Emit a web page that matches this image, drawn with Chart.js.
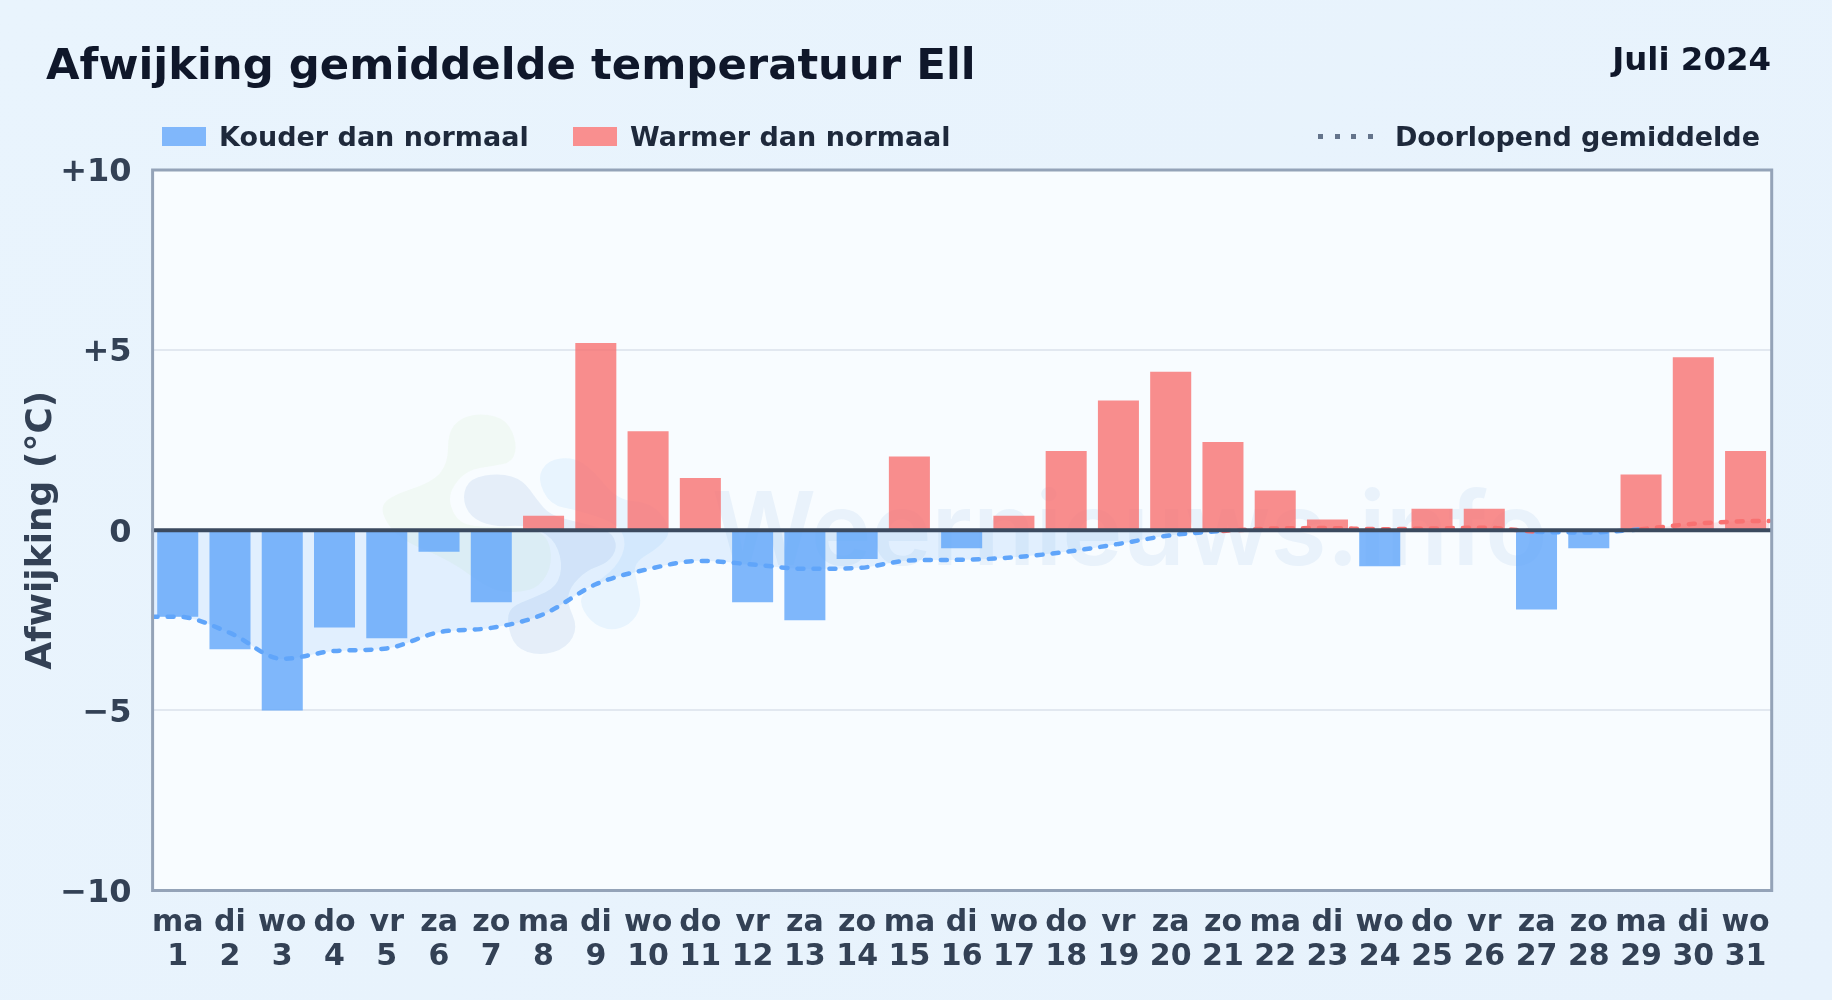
<!DOCTYPE html>
<html lang="nl">
<head>
<meta charset="utf-8">
<title>Afwijking gemiddelde temperatuur Ell</title>
<style>
  html, body { margin: 0; padding: 0; }
  body {
    position: relative;
    width: 1832px;
    height: 1000px;
    overflow: hidden;
    background: linear-gradient(135deg, #e9f4fd 0%, #e7f2fc 100%);
    font-family: 'DejaVu Sans', sans-serif;
    font-weight: 700;
  }
  canvas { position: absolute; left: 0; top: 0; }
  .txt { position: absolute; line-height: 1; white-space: nowrap; }
  #titel { left: 46px; top: 43px; font-size: 43.35px; color: #0f172a; }
  #maand { right: 61px; top: 43px; font-size: 32.4px; color: #0f172a; }
  .leg { top: 123px; font-size: 27px; color: #1e293b; }
  .swatch { position: absolute; top: 127px; width: 44px; height: 19px; }
  .dot { position: absolute; top: 134px; width: 5px; height: 5px; background: #64748b; }
</style>
</head>
<body>
<canvas id="chart" width="1832" height="1000"></canvas>
<div class="txt" id="titel">Afwijking gemiddelde temperatuur Ell</div>
<div class="txt" id="maand">Juli 2024</div>
<div class="swatch" style="left:162px;background:#80b7fb"></div>
<div class="txt leg" style="left:219px">Kouder dan normaal</div>
<div class="swatch" style="left:573px;background:#f98f8f"></div>
<div class="txt leg" style="left:630px">Warmer dan normaal</div>
<div class="dot" style="left:1318px"></div>
<div class="dot" style="left:1335px"></div>
<div class="dot" style="left:1351px"></div>
<div class="dot" style="left:1368px"></div>
<div class="txt leg" style="right:72px">Doorlopend gemiddelde</div>
<script src="https://cdn.jsdelivr.net/npm/chart.js@4"></script>
<script>
const weekdagen = ['ma', 'di', 'wo', 'do', 'vr', 'za', 'zo', 'ma', 'di', 'wo', 'do', 'vr', 'za', 'zo', 'ma', 'di', 'wo', 'do', 'vr', 'za', 'zo', 'ma', 'di', 'wo', 'do', 'vr', 'za', 'zo', 'ma', 'di', 'wo']
const dagnummers = ['1', '2', '3', '4', '5', '6', '7', '8', '9', '10', '11', '12', '13', '14', '15', '16', '17', '18', '19', '20', '21', '22', '23', '24', '25', '26', '27', '28', '29', '30', '31']
const afwijking = [-2.4, -3.3, -5.0, -2.7, -3.0, -0.6, -2.0, 0.4, 5.2, 2.75, 1.45, -2.0, -2.5, -0.8, 2.05, -0.5, 0.4, 2.2, 3.6, 4.4, 2.45, 1.1, 0.3, -1.0, 0.6, 0.6, -2.2, -0.5, 1.55, 4.8, 2.2]
// the running line runs on to both plot edges
const lopendDag = [0.5, 1, 2, 3, 4, 5, 6, 7, 8, 9, 10, 11, 12, 13, 14, 15, 16, 17, 18, 19, 20, 21, 22, 23, 24, 25, 26, 27, 28, 29, 30, 31, 31.45]
const lopend = [-2.4, -2.4, -2.85, -3.57, -3.35, -3.28, -2.83, -2.71, -2.33, -1.5, -1.08, -0.85, -0.95, -1.07, -1.05, -0.84, -0.82, -0.75, -0.6, -0.38, -0.14, -0.02, 0.05, 0.06, 0.03, 0.05, 0.07, -0.04, -0.06, 0.03, 0.18, 0.25, 0.26]
const yTicks = { '10': '+10', '5': '+5', '0': '0', '-5': '−5', '-10': '−10' }

const BLAUW = '#60a5fa'
const ROOD = '#f87171'

// faint logo shapes of the watermark, in page pixels
const vlekken = [
  { kleur: 'rgba(190, 225, 160, 0.1)', punten: [[380, 513], [387, 497], [433, 482], [448, 463], [448, 433], [460, 418], [483, 413], [507, 420], [517, 443], [513, 462], [493, 466], [467, 470], [450, 490], [450, 507], [460, 523], [480, 527], [517, 527], [547, 533], [553, 563], [540, 587], [517, 593], [490, 590], [450, 560], [400, 540]] },
  { kleur: 'rgba(100, 150, 210, 0.13)', punten: [[462, 497], [470, 478], [500, 473], [523, 480], [537, 500], [550, 515], [577, 522], [610, 530], [618, 547], [608, 563], [587, 570], [570, 587], [567, 603], [578, 627], [567, 648], [540, 656], [515, 648], [507, 623], [510, 607], [533, 598], [557, 587], [563, 563], [553, 537], [527, 525], [493, 527], [470, 517]] },
  { kleur: 'rgba(120, 195, 250, 0.13)', punten: [[537, 478], [548, 460], [573, 457], [593, 470], [617, 500], [653, 503], [672, 530], [660, 547], [633, 563], [637, 583], [642, 607], [630, 625], [610, 631], [590, 622], [578, 600], [590, 587], [617, 567], [627, 543], [617, 523], [577, 510], [550, 505]] }
]

function vlekPad(ctx, punten) {
  ctx.beginPath()
  const n = punten.length
  for (let i = 0; i < n; i++) {
    const a = punten[i]
    const b = punten[(i + 1) % n]
    const mx = (a[0] + b[0]) / 2
    const my = (a[1] + b[1]) / 2
    if (i === 0) {
      const z = punten[n - 1]
      ctx.moveTo((z[0] + a[0]) / 2, (z[1] + a[1]) / 2)
    }
    ctx.quadraticCurveTo(a[0], a[1], mx, my)
  }
  ctx.closePath()
}

const plotAchtergrond = {
  id: 'plotAchtergrond',
  beforeDraw(chart) {
    const { ctx, chartArea: a } = chart
    ctx.save()
    ctx.fillStyle = '#f8fcff'
    ctx.fillRect(a.left, a.top, a.width, a.height)
    vlekken.forEach(v => {
      vlekPad(ctx, v.punten)
      ctx.fillStyle = v.kleur
      ctx.fill()
    })
    ctx.font = '600 102px Inter, sans-serif'
    ctx.fillStyle = 'rgba(70, 130, 200, 0.08)'
    ctx.textAlign = 'left'
    ctx.textBaseline = 'alphabetic'
    ctx.fillText('Weernieuws.info', 712, 565)
    ctx.restore()
  }
}

const nulEnRand = {
  id: 'nulEnRand',
  afterDatasetsDraw(chart) {
    const { ctx, chartArea: a, scales } = chart
    const y0 = scales.y.getPixelForValue(0)
    ctx.save()
    ctx.strokeStyle = '#3b4a5f'
    ctx.lineWidth = 4
    ctx.beginPath()
    ctx.moveTo(a.left, y0)
    ctx.lineTo(a.right, y0)
    ctx.stroke()
    ctx.strokeStyle = '#94a3b8'
    ctx.lineWidth = 3
    ctx.strokeRect(a.left + 1, a.top, a.width - 1, a.height)
    ctx.restore()
  }
}

const chart = new Chart(document.getElementById('chart'), {
  type: 'bar',
  data: {
    labels: weekdagen.map((w, i) => [w, dagnummers[i]]),
    datasets: [
      {
        type: 'line',
        label: 'Doorlopend gemiddelde',
        xAxisID: 'x2',
        data: lopendDag.map((d, i) => ({ x: d, y: lopend[i] })),
        borderWidth: 4.5,
        borderDash: [6, 10],
        borderCapStyle: 'round',
        borderColor: BLAUW,
        segment: {
          borderColor: ctx => (ctx.p0.parsed.y + ctx.p1.parsed.y >= 0 ? ROOD : BLAUW)
        },
        cubicInterpolationMode: 'monotone',
        pointRadius: 0,
        fill: {
          target: { value: 0 },
          above: 'rgba(248, 113, 113, 0.15)',
          below: 'rgba(96, 165, 250, 0.15)'
        },
        order: 0
      },
      {
        label: 'Afwijking',
        xAxisID: 'x',
        data: afwijking,
        backgroundColor: afwijking.map(v => (v < 0 ? 'rgba(96, 165, 250, 0.8)' : 'rgba(248, 113, 113, 0.8)')),
        barPercentage: 0.785,
        categoryPercentage: 1,
        grouped: false,
        order: 1
      }
    ]
  },
  options: {
    responsive: false,
    animation: false,
    devicePixelRatio: 1,
    layout: {
      padding: { top: 170, left: 20, right: 60.3, bottom: 0 }
    },
    plugins: {
      legend: { display: false },
      tooltip: { enabled: false }
    },
    scales: {
      x: {
        afterFit(scale) { scale.height = 109.5 },
        grid: { display: false },
        border: { display: false },
        ticks: {
          autoSkip: false,
          maxRotation: 0,
          padding: 7,
          color: '#334155',
          font: { family: 'DejaVu Sans', size: 30, weight: 'bold', lineHeight: 1.16 }
        }
      },
      x2: {
        type: 'linear',
        display: false,
        offset: false,
        min: 0.5,
        max: 31.5
      },
      y: {
        min: -10,
        max: 10,
        afterFit(scale) { scale.width = 131.6 },
        grid: { color: '#e2e8f0', lineWidth: 2, drawTicks: false },
        border: { display: false },
        ticks: {
          stepSize: 5,
          padding: 20,
          labelOffset: 3,
          color: '#334155',
          font: { family: 'DejaVu Sans', size: 32, weight: 'bold' },
          callback: v => yTicks[v]
        },
        title: {
          display: true,
          text: 'Afwijking (°C)',
          color: '#334155',
          padding: 0,
          font: { family: 'DejaVu Sans', size: 36, weight: 'bold' }
        }
      }
    }
  },
  plugins: [plotAchtergrond, nulEnRand]
})
</script>
</body>
</html>
